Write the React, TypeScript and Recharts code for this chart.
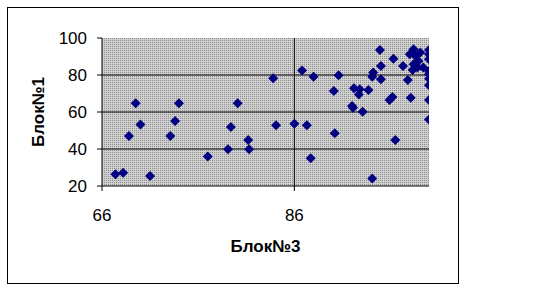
import React from 'react';
import { ScatterChart, Scatter, XAxis, YAxis, CartesianGrid } from 'recharts';

const block3: number[] = [
  67.4, 68.2, 68.8, 69.5, 70.0, 71.0, 73.1, 73.6, 74.0, 77.0,
  79.1, 79.4, 80.1, 81.2, 81.3, 83.8, 84.1, 86.0, 86.8, 87.3,
  87.7, 88.0, 90.1, 90.2, 90.6, 92.0, 92.2, 92.1, 92.7, 92.8,
  93.1, 93.7, 94.1, 94.1, 94.2, 94.9, 95.0, 95.0, 95.9, 96.2,
  96.3, 96.5, 97.3, 97.8, 98.1, 98.0, 98.3, 98.4, 98.6, 98.9,
  99.1, 98.8, 99.4, 98.4, 100, 100, 100, 100, 100, 100,
  100, 100, 100,
];
const block1: number[] = [
  26.3, 27.2, 47, 64.7, 53.3, 25.4, 47, 55.1, 64.7, 35.9,
  39.8, 51.9, 64.7, 44.9, 39.8, 78.2, 52.8, 53.7, 82.5, 52.8,
  35.0, 79.1, 71.4, 48.5, 79.8, 63.2, 72.8, 62.3, 69.5, 72.3,
  60.2, 71.9, 79.1, 24.0, 81.3, 93.5, 77.7, 84.9, 66.5, 68.1,
  88.8, 44.9, 84.9, 77.3, 67.7, 91.2, 82.7, 93.9, 90.3, 87.6,
  92.1, 84.0, 84.0, 85.8, 93.5, 91.2, 88.5, 82.2, 80.4, 78.0,
  74.4, 66.5, 56.0,
];
const xTicks: number[] = [66, 86];
const yTicks: number[] = [20, 40, 60, 80, 100];
const gridY: number[] = [40, 60, 80];
const gridX: number[] = [86];

const data = block3.map((x, i) => ({ x, y: block1[i] }));

const FONT = 'Arial, "Liberation Sans", sans-serif';

const Diamond = (props: any) => {
  const { cx, cy } = props;
  if (cx == null || cy == null) return null;
  const r = 5;
  return (
    <polygon
      points={`${cx},${cy - r} ${cx + r},${cy} ${cx},${cy + r} ${cx - r},${cy}`}
      fill="#000080"
    />
  );
};

const YTitle = (props: any) => {
  const vb = props.viewBox || {};
  const x = vb.x - 4;
  const y = vb.y + vb.height / 2;
  return (
    <text
      x={x}
      y={y}
      transform={`rotate(-90, ${x}, ${y})`}
      textAnchor="middle"
      dominantBaseline="central"
      fontFamily={FONT}
      fontWeight="bold"
      fontSize={17}
      fill="#000"
    >
      Блок№1
    </text>
  );
};

export default function App() {
  return (
    <div style={{ position: 'absolute', left: 0, top: 0, width: 547, height: 292, background: '#fff' }}>
      <svg width={0} height={0} style={{ position: 'absolute' }}>
        <defs>
          <pattern id="dots" width={2} height={2} patternUnits="userSpaceOnUse">
            <rect width={2} height={2} fill="#d0d0d0" />
            <rect width={1} height={1} fill="#8c8c8c" />
          </pattern>
        </defs>
      </svg>
      <div
        style={{
          position: 'absolute',
          left: 7,
          top: 7,
          width: 450,
          height: 275,
          border: '1px solid #000',
        }}
      />
      <div style={{ position: 'absolute', left: 0, top: 0 }}>
        <ScatterChart
          width={547}
          height={292}
          margin={{ top: 38, right: 118, bottom: 76, left: 42 }}
        >
          <CartesianGrid
            fill="url(#dots)"
            fillOpacity={1}
            stroke="#000"
            strokeWidth={1}
            horizontalValues={gridY}
            verticalValues={gridX}
          />
          <XAxis
            type="number"
            dataKey="x"
            domain={[66, 100]}
            ticks={xTicks}
            allowDataOverflow
            height={30}
            tickSize={5}
            tickMargin={18}
            axisLine={{ stroke: '#000' }}
            tickLine={{ stroke: '#000' }}
            tick={{ fill: '#000', fontSize: 17, fontFamily: FONT }}
            label={{
              value: 'Блок№3',
              position: 'bottom',
              offset: 24,
              fill: '#000',
              fontSize: 17,
              fontWeight: 'bold',
              fontFamily: FONT,
            }}
          />
          <YAxis
            type="number"
            dataKey="y"
            domain={[20, 100]}
            ticks={yTicks}
            allowDataOverflow
            width={60}
            tickSize={5}
            tickMargin={10}
            axisLine={{ stroke: '#000' }}
            tickLine={{ stroke: '#000' }}
            tick={{ fill: '#000', fontSize: 17, fontFamily: FONT }}
            label={<YTitle />}
          />
          <Scatter data={data} shape={<Diamond />} isAnimationActive={false} />
        </ScatterChart>
      </div>
    </div>
  );
}
